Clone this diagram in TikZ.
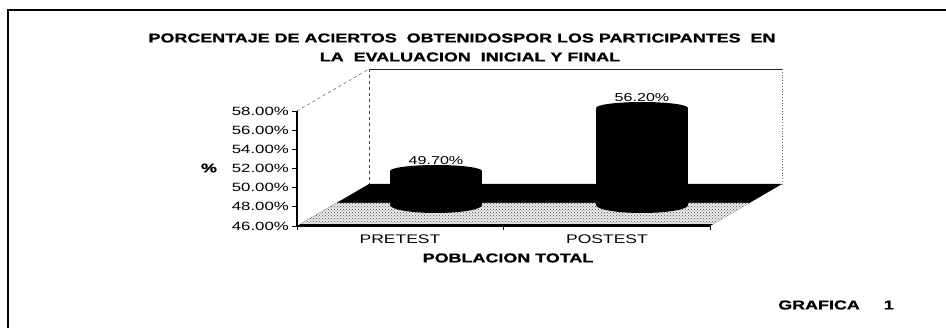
\documentclass[tikz,border=0pt]{standalone}
\usepackage{fontspec}
\setmainfont{Liberation Sans}[FakeStretch=1.4, BoldFeatures={FakeBold=1.2}]
\usetikzlibrary{patterns}

\tikzset{
  wall/.style={black!75, dashed, thin},
  ylab/.style={anchor=east, font=\fontsize{12}{14}\selectfont, inner sep=0pt},
  catlab/.style={font=\fontsize{12.5}{15}\selectfont, inner sep=0pt},
  boldlab/.style={font=\fontsize{12.8}{15}\selectfont\bfseries, inner sep=0pt},
  vallab/.style={font=\fontsize{11.5}{13}\selectfont, inner sep=0pt},
}

\begin{document}
\begin{tikzpicture}[x=1pt,y=-1pt]
	\useasboundingbox (0,0) rectangle (946,328);
	% frame
	\draw[line width=1.2pt] (8,328) -- (8,10) -- (946,10);
	% title
	\node[boldlab] (title1) at (462,38) {PORCENTAJE DE ACIERTOS\ \ OBTENIDOSPOR LOS PARTICIPANTES\ \ EN};
	\node[boldlab] (title2) at (470,57) {LA\ \ EVALUACION\ \ INICIAL Y FINAL};
	% back walls
	\draw[wall] (297,111) -- (369,69);
	\draw[black!85, thin] (369,69) -- (782,69);
	\draw[wall] (369,69) -- (369,184);
	\draw[black!60, dotted, thick] (782,69) -- (782,184);
	% floor
	\fill[black] (297,226) -- (369,184) -- (782,184) -- (710,226) -- cycle;
	\fill[black!8] (300.6,224) -- (336.6,203) -- (749.6,203) -- (713.6,224) -- cycle;
	\fill[pattern=crosshatch dots, pattern color=black!70] (300.6,224) -- (336.6,203) -- (749.6,203) -- (713.6,224) -- cycle;
	% pretest bar
	\fill[black] (390,171) rectangle (482,205);
	\fill[black] (436,171) ellipse [x radius=46, y radius=6];
	\fill[black] (436,205) ellipse [x radius=46, y radius=8];
	\node[vallab] (pre) at (436,161) {49.70\%};
	% postest bar
	\fill[black] (596,108) rectangle (688,205);
	\fill[black] (642,108) ellipse [x radius=46, y radius=6];
	\fill[black] (642,205) ellipse [x radius=46, y radius=8];
	\node[vallab] (post) at (642,98) {56.20\%};
	% axis
	\draw[line width=1.5pt] (297,111) -- (297,226);
	\foreach \v in {46,48,...,58} {
		\draw[thick] (292,{226-(\v-46)*9.583}) -- (297,{226-(\v-46)*9.583});
		\node[ylab] (y\v) at (289,{226-(\v-46)*9.583}) {\v.00\%};
	}
	\node[boldlab] (pct) at (209,168) {\%};
	% front edge
	\draw[line width=2.5pt] (297,226) -- (710,226);
	\foreach \x in {297,503.5,710}
		\draw[thick] (\x,226) -- (\x,230);
	\node[catlab] (pretest) at (400,239) {PRETEST};
	\node[catlab] (postest) at (607,239) {POSTEST};
	\node[boldlab] (xtitle) at (508,258) {POBLACION TOTAL};
	\node[boldlab, anchor=west] (grafica) at (778,305) {GRAFICA\hspace{24pt}1};
\end{tikzpicture}
\end{document}
